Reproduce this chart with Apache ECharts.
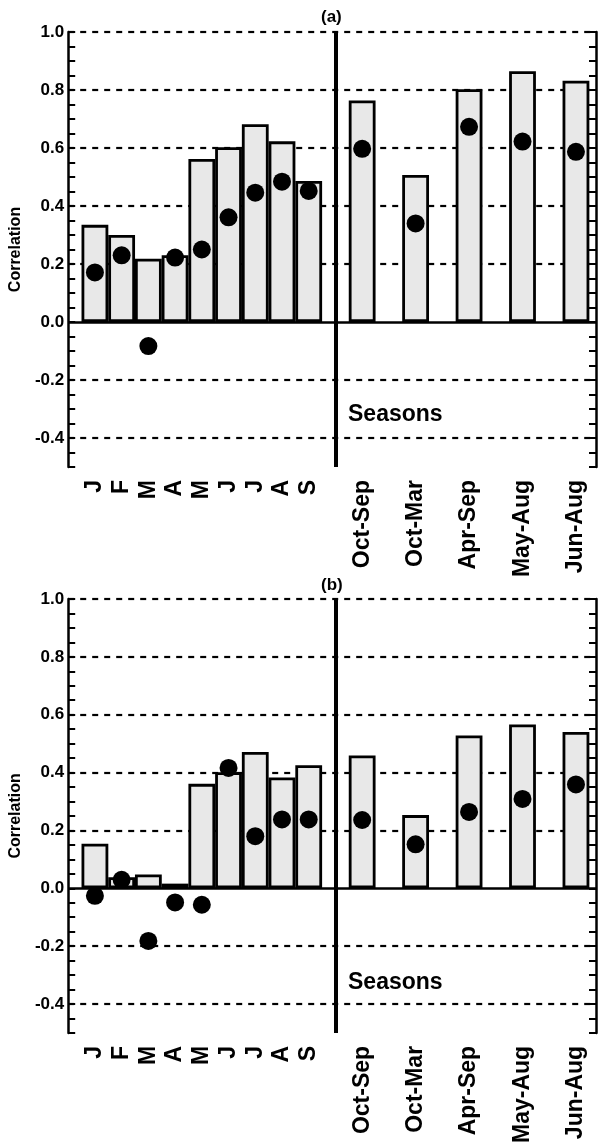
<!DOCTYPE html>
<html>
<head>
<meta charset="utf-8">
<script src="https://cdn.jsdelivr.net/npm/echarts@6/dist/echarts.min.js"></script>
<style>
  html, body { margin: 0; padding: 0; background: #fff; }
  #main { width: 602px; height: 1146px; }
</style>
</head>
<body>
<div id="main"></div>
<script>
// categories
var months = ['J', 'F', 'M', 'A', 'M', 'J', 'J', 'A', 'S'];
var seasons = ['Oct-Sep', 'Oct-Mar', 'Apr-Sep', 'May-Aug', 'Jun-Aug'];

// panel (a): bars then dots, months first then seasons
var barsA = [0.335, 0.30, 0.218, 0.23, 0.562, 0.603, 0.682, 0.623, 0.486, 0.764, 0.507, 0.803, 0.865, 0.832];
var dotsA = [0.171, 0.23, -0.083, 0.222, 0.25, 0.361, 0.446, 0.484, 0.452, 0.597, 0.34, 0.673, 0.622, 0.587];

// panel (b)
var barsB = [0.154, 0.038, 0.048, 0.016, 0.361, 0.401, 0.471, 0.383, 0.425, 0.459, 0.253, 0.528, 0.566, 0.540];
var dotsB = [-0.026, 0.029, -0.182, -0.049, -0.057, 0.416, 0.18, 0.238, 0.238, 0.236, 0.152, 0.264, 0.309, 0.359];

// dashed reference lines
var gridTicks = [1.0, 0.8, 0.6, 0.4, 0.2, -0.2, -0.4];

var FONT = "'Liberation Sans', Arial, Helvetica, sans-serif";

// slot on the x axis: months side by side, then a gap, then every other slot
var xPos = [];
var labelAt = {};
months.forEach(function (m, i) { xPos.push(i); labelAt[i] = m; });
seasons.forEach(function (s, i) { xPos.push(10 + 2 * i); labelAt[10 + 2 * i] = s; });
var sepX = 9;

function pairs(vals) {
    return vals.map(function (v, i) { return [xPos[i], v]; });
}

function yFmt(v) {
    var k = v * 5;
    if (Math.abs(k - Math.round(k)) > 1e-6) return '';
    var r = Math.round(v * 10) / 10;
    if (Math.abs(r) < 1e-9) r = 0;
    return r.toFixed(1);
}

var grids = [
    { left: 65, right: 6, top: 32, height: 435 },
    { left: 65, right: 6, top: 599, height: 435 }
];

var xAxes = [], yAxes = [], series = [];
var sets = [[barsA, dotsA], [barsB, dotsB]];

grids.forEach(function (g, gi) {
    xAxes.push({
        type: 'value', gridIndex: gi, min: -1, max: 18.75, interval: 1,
        axisLine: { show: false, onZero: false },
        axisTick: { show: false },
        splitLine: { show: false },
        axisLabel: {
            rotate: 90, margin: 13, color: '#000',
            fontSize: 23, fontWeight: 'bold', fontFamily: FONT,
            formatter: function (v) { return labelAt[v] || ''; }
        }
    });
    var axisBase = {
        type: 'value', gridIndex: gi, min: -0.5, max: 1.0, interval: 0.05,
        axisLine: { show: true, onZero: false, lineStyle: { color: '#000', width: 2.5 } },
        axisTick: { show: true, inside: true, length: 7, lineStyle: { color: '#000', width: 2 } },
        splitLine: { show: false }
    };
    yAxes.push(Object.assign({}, axisBase, {
        position: 'left',
        name: 'Correlation', nameLocation: 'middle', nameGap: 40, nameRotate: 90,
        nameTextStyle: { color: '#000', fontSize: 16, fontWeight: 'bold', fontFamily: FONT },
        axisLabel: { color: '#000', fontSize: 17, fontWeight: 'bold', fontFamily: FONT, margin: 4, formatter: yFmt }
    }));
    yAxes.push(Object.assign({}, axisBase, {
        position: 'right',
        axisLabel: { show: false }
    }));

    var lines = gridTicks.map(function (v) {
        return { yAxis: v, lineStyle: { color: '#000', width: 2.2, type: [6, 6] } };
    });
    lines.push({ yAxis: 0, lineStyle: { color: '#000', width: 2.5, type: 'solid' } });

    series.push({
        type: 'bar', xAxisIndex: gi, yAxisIndex: gi * 2,
        data: pairs(sets[gi][0]),
        barWidth: 26.8,
        itemStyle: { color: '#e8e8e8', borderColor: '#000', borderWidth: 2.8 },
        markLine: {
            silent: true, z: 1, symbol: ['none', 'none'], label: { show: false },
            data: lines
        }
    });
    series.push({
        type: 'scatter', xAxisIndex: gi, yAxisIndex: gi * 2,
        data: pairs(sets[gi][1]),
        symbolSize: 18, z: 6,
        itemStyle: { color: '#000', opacity: 1 },
        markLine: {
            silent: true, z: 7, symbol: ['none', 'none'], label: { show: false },
            lineStyle: { color: '#000', width: 4, type: 'solid' },
            data: [{ xAxis: sepX }]
        }
    });
});

var myChart = echarts.init(document.getElementById('main'));
myChart.setOption({
    animation: false,
    backgroundColor: '#fff',
    grid: grids,
    xAxis: xAxes,
    yAxis: yAxes,
    series: series,
    graphic: [
        { type: 'text', left: 321, top: 9, style: { text: '(a)', fill: '#000', font: 'bold 17px ' + FONT } },
        { type: 'text', left: 321, top: 577, style: { text: '(b)', fill: '#000', font: 'bold 17px ' + FONT } },
        { type: 'text', left: 348, top: 403, style: { text: 'Seasons', fill: '#000', font: 'bold 23px ' + FONT } },
        { type: 'text', left: 348, top: 971, style: { text: 'Seasons', fill: '#000', font: 'bold 23px ' + FONT } }
    ]
});
</script>
</body>
</html>
